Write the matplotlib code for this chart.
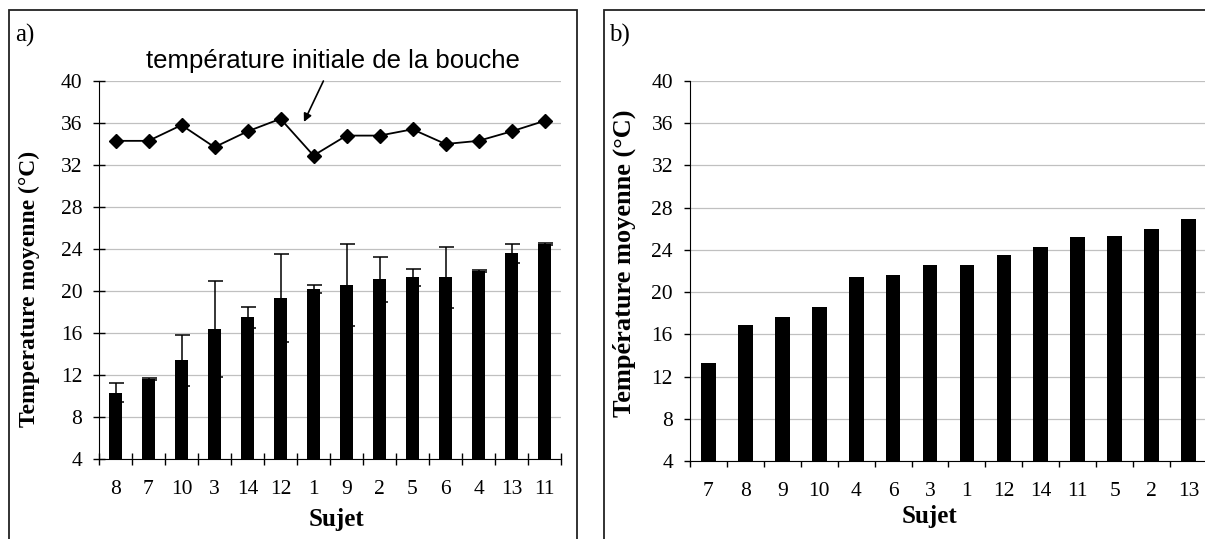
import numpy as np
import matplotlib.pyplot as plt
from matplotlib.patches import Rectangle

plt.rcParams['font.family'] = ['Liberation Serif', 'DejaVu Serif']

# panel a) : mean temperature per subject, with sd, and initial mouth temperature
sujets_a = ['8', '7', '10', '3', '14', '12', '1', '9', '2', '5', '6', '4', '13', '11']
moy_a = [10.3, 11.6, 13.4, 16.4, 17.5, 19.3, 20.2, 20.6, 21.1, 21.3, 21.3, 21.9, 23.6, 24.5]
sd_a = [0.9, 0.1, 2.4, 4.6, 1.0, 4.2, 0.4, 3.9, 2.1, 0.8, 2.9, 0.1, 0.9, 0.1]
bouche = [34.3, 34.3, 35.8, 33.7, 35.2, 36.4, 32.9, 34.8, 34.8, 35.4, 34.0, 34.3, 35.2, 36.2]

# panel b)
sujets_b = ['7', '8', '9', '10', '4', '6', '3', '1', '12', '14', '11', '5', '2', '13']
moy_b = [13.3, 16.9, 17.6, 18.6, 21.4, 21.6, 22.55, 22.55, 23.5, 24.25, 25.2, 25.35, 26.0, 26.9]

W, H = 1205, 539
fig = plt.figure(figsize=(W / 100, H / 100), dpi=100)

def px(x0, y0, x1, y1):
    # pixel box -> figure fraction [left, bottom, width, height]
    return [x0 / W, 1 - y1 / H, (x1 - x0) / W, (y1 - y0) / H]

ax1 = fig.add_axes(px(99, 81, 561, 459))
ax2 = fig.add_axes(px(690, 81, 1207, 461))

# panel frames
fig.patches.append(Rectangle((9 / W, -0.05), (577 - 9) / W, 1 - 10 / H + 0.05,
                             transform=fig.transFigure, fill=False, lw=1.3, ec='#222222'))
fig.patches.append(Rectangle((604 / W, -0.05), 0.6, 1 - 10 / H + 0.05,
                             transform=fig.transFigure, fill=False, lw=1.3, ec='#222222'))

tick_fs = 15.5

def style(ax, labels, tickdir, ticklen, xpad):
    n = len(labels)
    ax.set_xlim(-0.5, n - 0.5)
    ax.set_ylim(4, 40)
    ax.set_yticks(np.arange(4, 41, 4))
    ax.set_xticks(np.arange(n + 1) - 0.5)
    ax.set_xticklabels([])
    ax.set_xticks(np.arange(n), minor=True)
    ax.set_xticklabels(labels, minor=True, fontsize=tick_fs)
    ax.tick_params(axis='x', which='minor', length=0, pad=xpad)
    ax.tick_params(axis='both', which='major', direction=tickdir, length=ticklen,
                   width=1, color='black', labelsize=tick_fs, pad=8)
    ax.spines['top'].set_visible(False)
    ax.spines['right'].set_visible(False)
    ax.yaxis.grid(True, color='#c0c0c0', lw=0.9)
    ax.set_axisbelow(True)

# ---- a)
x = np.arange(len(sujets_a))
ax1.bar(x, moy_a, width=0.42, color='black', zorder=2)
ax1.errorbar(x + 0.03, moy_a, yerr=sd_a, fmt='none', ecolor='black', elinewidth=1.1,
             capsize=5.4, capthick=1.1, zorder=3)
ax1.plot(x, bouche, color='black', lw=1.3, marker='D', ms=7, zorder=4)
style(ax1, sujets_a, 'inout', 8, 15)
ax1.set_ylabel('Temperature moyenne (°C)', fontsize=17, fontweight='bold', va='center')
ax1.yaxis.set_label_coords(-0.15, 0.45)
ax1.set_xlabel('Sujet', fontsize=18, fontweight='bold', va='center')
ax1.xaxis.set_label_coords(0.513, -0.159)

ax1.text(6.59, 41.2, 'température initiale de la bouche', ha='center', va='baseline',
         fontsize=18.5, family='Liberation Sans', clip_on=False)
ax1.annotate('', xy=(5.71, 36.1), xytext=(6.3, 40.0),
             arrowprops=dict(arrowstyle='-|>', color='black', lw=1.2,
                             mutation_scale=12, shrinkA=0, shrinkB=0),
             annotation_clip=False)

# ---- b)
xb = np.arange(len(sujets_b))
ax2.bar(xb, moy_b, width=0.4, color='black', zorder=2)
style(ax2, sujets_b, 'out', 4.3, 15)
ax2.set_ylabel('Température moyenne (°C)', fontsize=19, fontweight='bold', va='center')
ax2.yaxis.set_label_coords(-0.127, 0.52)
ax2.set_xlabel('Sujet', fontsize=18, fontweight='bold', va='center')
ax2.xaxis.set_label_coords(0.464, -0.147)

fig.text(15 / W, 1 - 35 / H, 'a)', fontsize=18, va='center', ha='left')
fig.text(609 / W, 1 - 35 / H, 'b)', fontsize=18, va='center', ha='left')

fig.savefig('out.png', dpi=100)
